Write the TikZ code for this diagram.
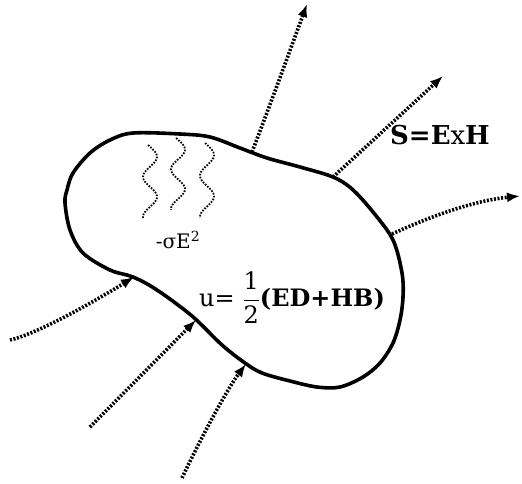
\documentclass[tikz,border=0pt]{standalone}
\usepackage{fontspec}
\setmainfont{DejaVu Serif}
\usetikzlibrary{arrows.meta}
\begin{document}
\begin{tikzpicture}[x=1pt,y=-1pt,
  blob/.style={line width=3.6pt, line join=round},
  flux/.style={line width=3.6pt, dash pattern=on 2pt off 1.6pt, -{Latex[length=13pt,width=10pt]}},
  heat/.style={line width=1.8pt, dash pattern=on 1.6pt off 1.4pt},
  lbl/.style={inner sep=0pt, anchor=center}]
\useasboundingbox (0,0) rectangle (522,483);
% closed surface
\draw[blob] plot[smooth cycle, tension=0.55] coordinates {
 (110,140) (133,133) (180,134) (210,137) (240,148) (267,158) (300,167) (333,177)
 (352,189) (373,212) (393,240) (402,273) (403,297) (400,320) (393,343) (380,363)
 (363,377) (340,387) (317,387) (290,381) (262,373) (245,363) (222,345)
 (192,316) (157,290) (133,277) (110,270) (83,253) (70,230) (65,203) (67,190)
 (73,173) (90,153)};
% points on the surface
\coordinate (o1) at (252,152);
\coordinate (o2) at (333,177);
\coordinate (o3) at (392,234);
\coordinate (i1) at (134,277);
\coordinate (i2) at (196,320);
\coordinate (i3) at (246,364);
% free ends
\coordinate (e1) at (307,4);
\coordinate (e2) at (443,76);
\coordinate (e3) at (520,196);
\coordinate (s1) at (10,340);
\coordinate (s2) at (90,427);
\coordinate (s3) at (182,478);
% outgoing flux
\draw[flux] (o1) .. controls (272,100) and (292,45) .. (e1);
\draw[flux] (o2) -- (e2);
\draw[flux] (o3) .. controls (440,212) and (480,200) .. (e3);
% incoming flux
\draw[flux] (s1) .. controls (40,333) and (100,298) .. (i1);
\draw[flux] (s2) -- (i2);
\draw[flux] (s3) .. controls (195,450) and (225,392) .. (i3);
% heat waves
\draw[heat] plot[domain=0:1, samples=50, smooth, variable=\t] ({150+7*sin(655*\t-15)}, {145+73*\t});
\draw[heat] plot[domain=0:1, samples=50, smooth, variable=\t] ({178+7*sin(655*\t-15)}, {138+72*\t});
\draw[heat] plot[domain=0:1, samples=50, smooth, variable=\t] ({207+7*sin(655*\t-15)}, {143+75*\t});
% labels
\node[lbl] (loss) at (178,240) {\fontsize{20}{24}\selectfont -σE\textsuperscript{2}};
\node[lbl] (energy) at (292,298) {\fontsize{24}{28}\selectfont u= $\displaystyle\frac{\mbox{1}}{\mbox{2}}$\textbf{(ED+HB)}};
\node[lbl] (poynting) at (440,135) {\fontsize{26}{30}\selectfont\textbf{S=E}x\textbf{H}};
\end{tikzpicture}
\end{document}
